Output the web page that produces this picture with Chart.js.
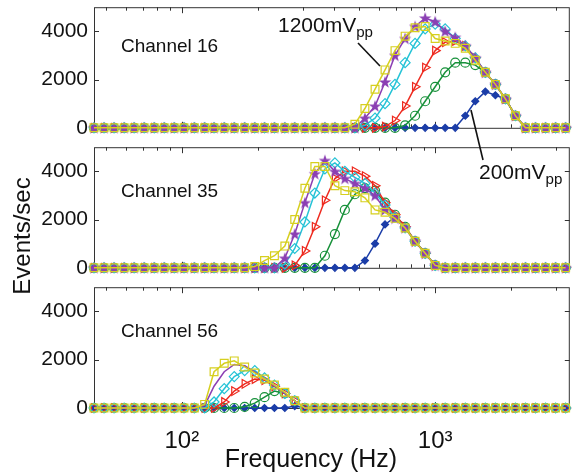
<!DOCTYPE html>
<html>
<head>
<meta charset="utf-8">
<script src="https://cdn.jsdelivr.net/npm/chart.js@4.4.0/dist/chart.umd.min.js"></script>
<style>
  body { margin: 0; background: #fff; width: 577px; height: 472px; position: relative; overflow: hidden;
         font-family: "Liberation Sans", Arial, sans-serif; color: #111; }
  .panel { position: absolute; left: 0; width: 577px; }
  .lbl { position: absolute; white-space: nowrap; line-height: 1; }
  .lbl sub { font-size: 0.72em; vertical-align: -0.35em; }
  svg { position: absolute; left: 0; top: 0; }
</style>
</head>
<body>
<div class="panel" style="top:0;height:135px"><canvas id="c16" width="577" height="135"></canvas></div>
<div class="panel" style="top:140px;height:135px"><canvas id="c35" width="577" height="135"></canvas></div>
<div class="panel" style="top:280px;height:192px"><canvas id="c56" width="577" height="192"></canvas></div>

<svg width="577" height="472">
  <line x1="358" y1="43" x2="380" y2="66" stroke="#111" stroke-width="1.6"/>
  <line x1="471" y1="110" x2="483" y2="160" stroke="#111" stroke-width="1.6"/>
</svg>

<div class="lbl" style="left:121px;top:36px;font-size:19px">Channel 16</div>
<div class="lbl" style="left:121px;top:181px;font-size:19px">Channel 35</div>
<div class="lbl" style="left:121px;top:321px;font-size:19px">Channel 56</div>
<div class="lbl" style="left:278px;top:14px;font-size:21px">1200mV<sub>pp</sub></div>
<div class="lbl" style="left:479px;top:161px;font-size:21px">200mV<sub>pp</sub></div>
<div class="lbl" style="left:22px;top:236px;font-size:24px;transform:translate(-50%,-50%) rotate(-90deg)">Events/sec</div>
<div class="lbl" style="left:311px;top:458px;font-size:25px;transform:translate(-50%,-50%)">Frequency (Hz)</div>

<script>
// frequency of each sample (Hz)
const freqHz = [45, 49.3, 54, 59.2, 64.8, 71, 77.8, 85.2, 93.3, 102,
                112, 123, 134, 147, 161, 177, 194, 212, 232, 255,
                279, 306, 335, 367, 402, 440, 482, 528, 579, 634,
                694, 761, 833, 913, 1000, 1095, 1200, 1315, 1440, 1578,
                1729, 1894, 2074, 2272, 2489, 2727, 2988, 3273];

const amplitudes = ['200mVpp', '400mVpp', '600mVpp', '800mVpp', '1000mVpp', '1200mVpp'];

// Channel 16
const ch16_200  = [0,0,0,0,0,0,0,0,0,0, 0,0,0,0,0,0,0,0,0,0, 0,0,0,0,0,0,0,0,0,0,
                   0,0,0,0,0,0,0,500,1100,1500, 1350,1200,500,0,0,0,0,0];
const ch16_400  = [0,0,0,0,0,0,0,0,0,0, 0,0,0,0,0,0,0,0,0,0, 0,0,0,0,0,0,0,0,0,0,
                   0,100,500,1100,1700,2300,2700,2700,2600,2300, 1800,1200,500,0,0,0,0,0];
const ch16_600  = [0,0,0,0,0,0,0,0,0,0, 0,0,0,0,0,0,0,0,0,0, 0,0,0,0,0,0,0,0,0,50,
                   300,900,1700,2500,3200,3550,3600,3400,2900,2300, 1800,1200,500,0,0,0,0,0];
const ch16_800  = [0,0,0,0,0,0,0,0,0,0, 0,0,0,0,0,0,0,0,0,0, 0,0,0,0,0,0,0,100,400,1000,
                   1800,2700,3500,4100,4300,4100,3700,3400,2900,2300, 1800,1200,500,0,0,0,0,0];
const ch16_1000 = [0,0,0,0,0,0,0,0,0,0, 0,0,0,0,0,0,0,0,0,0, 0,0,0,0,0,0,0,400,900,1900,
                   3000,3700,4200,4550,4400,4000,3750,3400,2900,2300, 1800,1200,500,0,0,0,0,0];
const ch16_1200 = [0,0,0,0,0,0,0,0,0,0, 0,0,0,0,0,0,0,0,0,0, 0,0,0,0,0,0,150,800,1600,2400,
                   3200,3800,4150,4200,3700,3600,3500,3300,2800,2300, 1800,1200,500,0,0,0,0,0];

// Channel 35
const ch35_200  = [0,0,0,0,0,0,0,0,0,0, 0,0,0,0,0,0,0,0,0,0, 0,0,0,0,0,0,0,300,1000,1800,
                   2100,1650,1100,600,100,0,0,0,0,0, 0,0,0,0,0,0,0,0];
const ch35_400  = [0,0,0,0,0,0,0,0,0,0, 0,0,0,0,0,0,0,0,0,0, 0,0,0,500,1400,2400,3050,3300,3200,2700,
                   2200,1700,1100,600,100,0,0,0,0,0, 0,0,0,0,0,0,0,0];
const ch35_600  = [0,0,0,0,0,0,0,0,0,0, 0,0,0,0,0,0,0,0,0,0, 100,700,1700,2800,3700,4000,4000,3800,3400,2700,
                   2200,1700,1100,600,100,0,0,0,0,0, 0,0,0,0,0,0,0,0];
const ch35_800  = [0,0,0,0,0,0,0,0,0,0, 0,0,0,0,0,0,0,0,0,150, 800,1900,3100,4100,4350,4000,3750,3500,3100,2600,
                   2100,1650,1100,600,100,0,0,0,0,0, 0,0,0,0,0,0,0,0];
const ch35_1000 = [0,0,0,0,0,0,0,0,0,0, 0,0,0,0,0,0,0,0,0,400, 1400,2700,3900,4450,4000,3700,3500,3300,3000,2400,
                   2050,1650,1100,600,100,0,0,0,0,0, 0,0,0,0,0,0,0,0];
const ch35_1200 = [0,0,0,0,0,0,0,0,0,0, 0,0,0,0,0,0,50,300,500,900, 2000,3300,4200,4200,3400,3200,3150,2900,2400,2300,
                   2050,1650,1100,600,100,0,0,0,0,0, 0,0,0,0,0,0,0,0];

// Channel 56
const ch56_200  = [0,0,0,0,0,0,0,0,0,0, 0,0,0,0,0,0,0,0,0,0, 80,0,0,0,0,0,0,0,0,0,
                   0,0,0,0,0,0,0,0,0,0, 0,0,0,0,0,0,0,0];
const ch56_400  = [0,0,0,0,0,0,0,0,0,0, 0,0,0,0,0,50,200,450,700,600, 300,0,0,0,0,0,0,0,0,0,
                   0,0,0,0,0,0,0,0,0,0, 0,0,0,0,0,0,0,0];
const ch56_600  = [0,0,0,0,0,0,0,0,0,0, 0,0,0,250,700,1000,1200,1150,900,600, 300,0,0,0,0,0,0,0,0,0,
                   0,0,0,0,0,0,0,0,0,0, 0,0,0,0,0,0,0,0];
const ch56_800  = [0,0,0,0,0,0,0,0,0,0, 0,0,250,800,1300,1550,1550,1250,950,600, 300,0,0,0,0,0,0,0,0,0,
                   0,0,0,0,0,0,0,0,0,0, 0,0,0,0,0,0,0,0];
const ch56_1000 = [0,0,0,0,0,0,0,0,0,0, 0,100,900,1500,1800,1750,1500,1200,900,600, 300,0,0,0,0,0,0,0,0,0,
                   0,0,0,0,0,0,0,0,0,0, 0,0,0,0,0,0,0,0];
const ch56_1200 = [0,0,0,0,0,0,0,0,0,0, 0,150,1500,1850,1950,1700,1450,1200,950,650, 300,0,0,0,0,0,0,0,0,0,
                   0,0,0,0,0,0,0,0,0,0, 0,0,0,0,0,0,0,0];

const yTickValues = [0, 2000, 4000];
const xLabelValues = [100, 1000];
const xMinorValues = [50, 60, 70, 80, 90, 100, 200, 300, 400, 500, 600, 700, 800, 900, 1000, 2000, 3000];

function starMarker(color) {
  const c = document.createElement('canvas');
  c.width = 14; c.height = 14;
  const g = c.getContext('2d');
  g.beginPath();
  for (let i = 0; i < 10; i++) {
    const r = i % 2 ? 2.6 : 6.5;
    const a = -Math.PI / 2 + i * Math.PI / 5;
    g.lineTo(7 + r * Math.cos(a), 7.5 + r * Math.sin(a));
  }
  g.closePath();
  g.fillStyle = color;
  g.fill();
  return c;
}

const seriesStyle = [
  { color: '#1b3da8', point: 'rectRot', r: 3.5, fill: '#1b3da8', order: 5 },
  { color: '#17913a', point: 'circle', r: 4.5, fill: 'rgba(0,0,0,0)', order: 4 },
  { color: '#ee2a1f', point: 'triangle', r: 5, fill: 'rgba(0,0,0,0)', order: 3, rot: 90 },
  { color: '#25c3d6', point: 'rectRot', r: 5, fill: 'rgba(0,0,0,0)', order: 2 },
  { color: '#8b3fb3', point: starMarker('#8b3fb3'), r: 6, fill: '#8b3fb3', order: 1 },
  { color: '#d6cf1f', point: 'rect', r: 5.5, fill: 'rgba(0,0,0,0)', order: 0 }
];

// axes box with inward ticks, drawn under the data like MATLAB
const framePlugin = {
  id: 'frame',
  beforeDatasetsDraw(chart) {
    const { ctx, chartArea: a, scales: { x, y } } = chart;
    ctx.save();
    ctx.strokeStyle = '#333';
    ctx.lineWidth = 1;
    ctx.strokeRect(a.left + 0.5, a.top + 0.5, a.right - a.left - 1, a.bottom - a.top);
    ctx.beginPath();
    xMinorValues.forEach(v => {
      const px = Math.round(x.getPixelForValue(v)) + 0.5;
      const len = xLabelValues.includes(v) ? 6 : 3.5;
      ctx.moveTo(px, a.top); ctx.lineTo(px, a.top + len);
      ctx.moveTo(px, a.bottom); ctx.lineTo(px, a.bottom - len);
    });
    yTickValues.forEach(v => {
      const py = Math.round(y.getPixelForValue(v)) + 0.5;
      ctx.moveTo(a.left, py); ctx.lineTo(a.left + 5, py);
      ctx.moveTo(a.right, py); ctx.lineTo(a.right - 5, py);
    });
    ctx.stroke();
    ctx.restore();
  }
};

function makePanel(id, series, showX) {
  const datasets = series.map((vals, i) => {
    const s = seriesStyle[i];
    return {
      label: amplitudes[i],
      data: vals.map((v, k) => ({ x: freqHz[k], y: v })),
      borderColor: s.color,
      backgroundColor: s.fill,
      borderWidth: 1.5,
      pointStyle: s.point,
      pointRadius: s.r,
      pointRotation: s.rot || 0,
      pointBorderColor: s.color,
      pointBackgroundColor: s.fill,
      pointBorderWidth: 1.2,
      tension: 0,
      clip: false,
      order: s.order
    };
  });
  return new Chart(document.getElementById(id), {
    type: 'line',
    data: { datasets },
    options: {
      responsive: false,
      animation: false,
      layout: { padding: { top: 4, right: 5, bottom: showX ? 0 : 7, left: 0 } },
      plugins: { legend: { display: false }, tooltip: { enabled: false } },
      scales: {
        x: {
          type: 'logarithmic',
          min: 45,
          max: 3400,
          grid: { display: false, drawTicks: false },
          border: { display: false },
          afterBuildTicks: s => { s.ticks = xLabelValues.map(v => ({ value: v })); },
          afterFit: s => {
            s.height = showX ? 64 : 0;
            s.paddingLeft = 0; s.paddingRight = 0;
          },
          ticks: {
            display: showX,
            padding: 19,
            color: '#111',
            font: { family: '"Liberation Sans", Arial, sans-serif', size: 24 },
            callback: v => v === 100 ? '10²' : v === 1000 ? '10³' : ''
          }
        },
        y: {
          min: 0,
          max: 5000,
          grid: { display: false, drawTicks: false },
          border: { display: false },
          afterBuildTicks: s => { s.ticks = yTickValues.map(v => ({ value: v })); },
          afterFit: s => {
            s.width = 94;
            s.paddingTop = 0; s.paddingBottom = 0;
          },
          ticks: {
            padding: 6,
            color: '#111',
            font: { family: '"Liberation Sans", Arial, sans-serif', size: 21 },
            callback: v => String(v)
          }
        }
      }
    },
    plugins: [framePlugin]
  });
}

makePanel('c16', [ch16_200, ch16_400, ch16_600, ch16_800, ch16_1000, ch16_1200], false);
makePanel('c35', [ch35_200, ch35_400, ch35_600, ch35_800, ch35_1000, ch35_1200], false);
const c56 = makePanel('c56', [ch56_200, ch56_400, ch56_600, ch56_800, ch56_1000, ch56_1200], true);
// in the Channel 56 panel the 1000mV trace shows as a bare line
c56.data.datasets[4].pointRadius = 0;
c56.update();
</script>
</body>
</html>
